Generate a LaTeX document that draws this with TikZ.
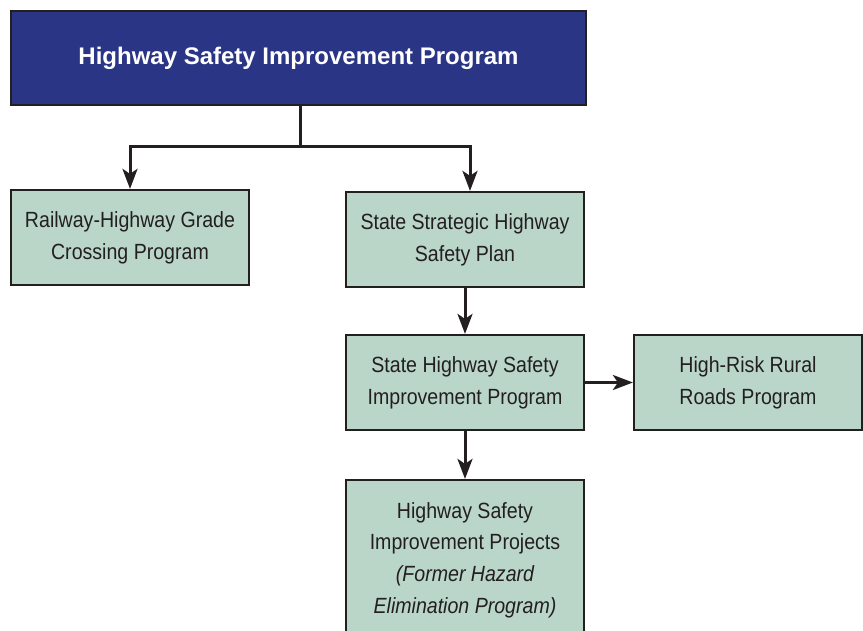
\documentclass[tikz,border=0pt]{standalone}
\usepackage{fontspec}
\setmainfont{Liberation Sans}
\newfontfamily\boxfont[FakeStretch=0.89]{Liberation Sans}
\usepackage{xcolor}
\usetikzlibrary{arrows.meta}

\definecolor{hsipblue}{HTML}{2B3585}
\definecolor{boxgreen}{HTML}{BAD6C9}
\definecolor{linegray}{HTML}{231F20}

\tikzset{
  prog/.style={draw=linegray, line width=2.2pt, fill=boxgreen, minimum width=238pt, minimum height=95pt, align=center, inner sep=0pt, text=linegray, font=\boxfont\fontsize{22}{31.7}\selectfont},
  flow/.style={draw=linegray, line width=3pt, -{Stealth[length=20pt,width=15pt,inset=5pt]}},
}

\begin{document}
\begin{tikzpicture}[x=1pt,y=-1pt]
        \useasboundingbox (0,0) rectangle (863,631);
        \node[draw=linegray, line width=2.2pt, fill=hsipblue, minimum width=575pt, minimum height=94pt, text=white, font=\bfseries\fontsize{24}{28}\selectfont] (hsip) at (298.5,58) {Highway Safety Improvement Program};
        \node[prog] (rail) at (130,237.5) {Railway-Highway Grade\\Crossing Program};
        \node[prog] (shsp) at (465,239.5) {State Strategic Highway\\Safety Plan};
        \node[prog] (shsip) at (465,382.5) {State Highway Safety\\Improvement Program};
        \node[prog, minimum width=228pt] (hrrr) at (748,382.5) {High-Risk Rural\\Roads Program};
        \node[prog, minimum height=160pt] (proj) at (465,560) {Highway Safety\\Improvement Projects\\{\itshape (Former Hazard}\\{\itshape Elimination Program)}};
        \coordinate (split) at (300,147);
        \draw[flow, -] (hsip.south -| split) -- (split);
        \draw[flow] (split) -| (rail.north);
        \draw[flow] (split) -| ([xshift=5pt]shsp.north);
        \draw[flow] (shsp.south) -- (shsip.north);
        \draw[flow] (shsip.east) -- (hrrr.west);
        \draw[flow] (shsip.south) -- (proj.north);
\end{tikzpicture}
\end{document}
